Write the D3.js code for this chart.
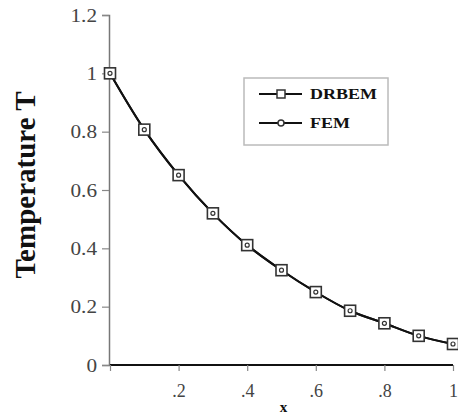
<!DOCTYPE html>
<html><head><meta charset="utf-8">
<script src="https://cdn.jsdelivr.net/npm/d3@7"></script>
<style>body{margin:0;background:#fff}svg{display:block}</style>
</head><body>
<svg id="c" width="458" height="417"></svg>
<script>
const xValues = [0, 0.1, 0.2, 0.3, 0.4, 0.5, 0.6, 0.7, 0.8, 0.9, 1.0];
const drbem = [1.0, 0.807, 0.651, 0.520, 0.411, 0.325, 0.250, 0.186, 0.143, 0.100, 0.072];
const fem = [1.0, 0.807, 0.651, 0.520, 0.411, 0.325, 0.250, 0.186, 0.143, 0.100, 0.072];
const yTicks = [0, 0.2, 0.4, 0.6, 0.8, 1.0, 1.2];
const yTickLabels = ["0", "0.2", "0.4", "0.6", "0.8", "1", "1.2"];
const xTicks = [0, 0.2, 0.4, 0.6, 0.8, 1.0];
const xTickLabels = ["", ".2", ".4", ".6", ".8", "1"];
const seriesNames = ["DRBEM", "FEM"];

const serif = "'Liberation Serif', 'Times New Roman', Times, serif";
const svg = d3.select("#c");
const x = d3.scaleLinear().domain([0, 1]).range([110, 453]);
const y = d3.scaleLinear().domain([0, 1.2]).range([365, 15]);

// y axis
const ya = svg.append("g").attr("transform", "translate(109,0)")
  .call(d3.axisLeft(y).tickValues(yTicks).tickSize(7).tickFormat((d,i)=>yTickLabels[i]));
ya.select(".domain").attr("stroke", "#777").attr("stroke-width", 1.5);
ya.selectAll(".tick line").attr("stroke", "#888").attr("stroke-width", 1.2);
ya.selectAll(".tick text")
  .style("font-family", serif).attr("font-size", 18)
  .attr("fill", "#444").attr("x", -12/1.18).attr("dy", "0.34em")
  .attr("transform", "scale(1.18,1)");

// x axis
const xa = svg.append("g").attr("transform", "translate(0,365)")
  .call(d3.axisBottom(x).tickValues(xTicks).tickSize(6).tickFormat((d,i)=>xTickLabels[i]));
xa.select(".domain").attr("stroke", "#111").attr("stroke-width", 2).attr("d", "M110,0H453");
xa.selectAll(".tick line").attr("stroke", "#888").attr("stroke-width", 1.2);
xa.selectAll(".tick text")
  .style("font-family", serif).attr("font-size", 18)
  .attr("fill", "#444").attr("y", 32).attr("dy", 0);

// axis titles
svg.append("text").attr("transform", "translate(35,185) rotate(-90)")
  .attr("text-anchor", "middle").style("font-family", serif)
  .attr("font-weight", "bold").attr("font-size", 29).attr("fill", "#111")
  .text("Temperature T");
svg.append("text").attr("x", x(0.5)+2).attr("y", 412)
  .attr("text-anchor", "middle").style("font-family", serif)
  .attr("font-weight", "bold").attr("font-size", 15).attr("fill", "#111").text("x");

// curves
const line = d3.line().x((d,i)=>x(xValues[i])).y(d=>y(d)).curve(d3.curveCatmullRom);
svg.append("path").datum(fem).attr("d", line).attr("fill", "none")
  .attr("stroke", "#111").attr("stroke-width", 2);
svg.append("path").datum(drbem).attr("d", line).attr("fill", "none")
  .attr("stroke", "#111").attr("stroke-width", 2);

// DRBEM squares
svg.selectAll(".sq").data(drbem).enter().append("rect")
  .attr("x", (d,i)=>x(xValues[i])-5.5).attr("y", d=>y(d)-5.5)
  .attr("width", 11).attr("height", 11)
  .attr("fill", "#fff").attr("stroke", "#333").attr("stroke-width", 1.6);
// FEM circles
svg.selectAll(".ci").data(fem).enter().append("circle")
  .attr("cx", (d,i)=>x(xValues[i])).attr("cy", d=>y(d)).attr("r", 2)
  .attr("fill", "#fff").attr("stroke", "#333").attr("stroke-width", 1.2);

// legend
const lg = svg.append("g");
lg.append("rect").attr("x", 244).attr("y", 78).attr("width", 144).attr("height", 67)
  .attr("fill", "#fff").attr("stroke", "#bbb").attr("stroke-width", 1.5);
const ly = [94, 123];
seriesNames.forEach((name, i) => {
  lg.append("line").attr("x1", 259).attr("x2", 302).attr("y1", ly[i]).attr("y2", ly[i])
    .attr("stroke", "#111").attr("stroke-width", 2);
  if (i === 0) {
    lg.append("rect").attr("x", 277).attr("y", ly[i]-4).attr("width", 8).attr("height", 8)
      .attr("fill", "#fff").attr("stroke", "#333").attr("stroke-width", 1.5);
  } else {
    lg.append("circle").attr("cx", 281).attr("cy", ly[i]).attr("r", 3)
      .attr("fill", "#fff").attr("stroke", "#333").attr("stroke-width", 1.5);
  }
  lg.append("text").attr("x", 310/1.2).attr("y", ly[i]+5)
    .attr("transform", "scale(1.2,1)")
    .style("font-family", serif).attr("font-weight", "bold")
    .attr("font-size", 15).attr("fill", "#111").text(name);
});
</script>
</body></html>
